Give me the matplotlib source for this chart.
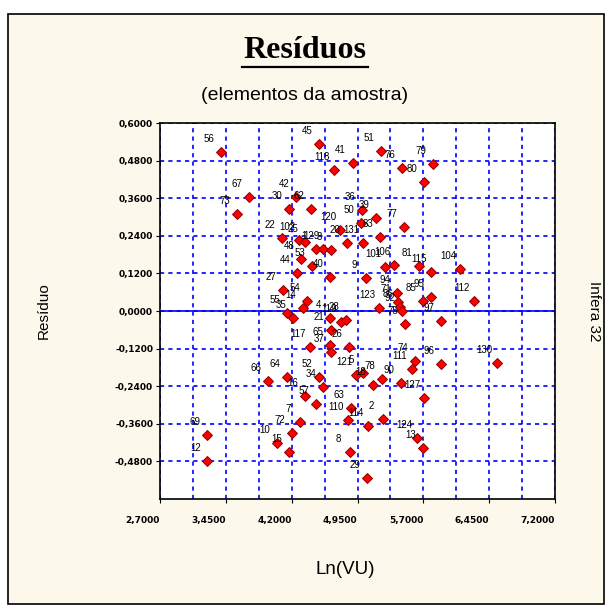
import numpy as np
import matplotlib
matplotlib.use("Agg")
import matplotlib.pyplot as plt
from matplotlib.patches import Rectangle

# elementos da amostra: rótulo, Ln(VU), resíduo
labels = ["56", "67", "73", "45", "118", "41", "51", "76", "80", "79",
          "42", "30", "62", "77", "115", "104", "95", "112", "97", "96",
          "130", "127", "124", "13", "69", "12", "66", "64", "57", "52",
          "114", "7", "72", "15", "8", "29",
          "36", "39", "50", "120", "83", "131", "20", "22", "102", "25",
          "1", "129", "3", "48", "53", "101", "106", "44", "40", "9",
          "81", "27", "54", "14", "55", "35", "4", "119", "28", "21",
          "123", "94", "71", "86", "92", "85", "75", "26", "117", "65",
          "37", "121", "5", "78", "18", "90", "111", "74", "63", "110",
          "2", "34", "16", "10"]
ln_vu = [3.392, 3.714, 3.581, 4.511, 4.679, 4.895, 5.214, 5.454, 5.711, 5.807,
         4.249, 4.173, 4.420, 5.480, 5.787, 6.118, 5.787, 6.277, 5.898, 5.898,
         6.536, 5.708, 5.624, 5.693, 3.239, 3.239, 3.934, 4.150, 4.477, 4.515,
         5.073, 4.295, 4.200, 4.170, 4.865, 5.062,
         5.001, 5.161, 4.990, 4.751, 5.206, 5.013, 4.830, 4.090, 4.283, 4.352,
         4.477, 4.557, 4.648, 4.306, 4.432, 5.263, 5.366, 4.261, 4.637, 5.047,
         5.651, 4.101, 4.375, 4.329, 4.147, 4.215, 4.637, 4.762, 4.819, 4.648,
         5.195, 5.400, 5.411, 5.434, 5.457, 5.696, 5.491, 4.853, 4.409, 4.637,
         4.648, 4.933, 5.013, 5.229, 5.127, 5.445, 5.571, 5.605, 4.876, 4.842,
         5.240, 4.557, 4.352, 4.033]
residuo = [0.506, 0.363, 0.309, 0.533, 0.450, 0.473, 0.512, 0.455, 0.411, 0.468,
           0.364, 0.325, 0.325, 0.269, 0.125, 0.134, 0.044, 0.033, -0.032, -0.170,
           -0.165, -0.279, -0.406, -0.436, -0.397, -0.479, -0.224, -0.210, -0.297, -0.210,
           -0.367, -0.353, -0.390, -0.450, -0.449, -0.532,
           0.322, 0.297, 0.281, 0.259, 0.236, 0.217, 0.217, 0.233, 0.227, 0.220,
           0.198, 0.198, 0.195, 0.166, 0.144, 0.140, 0.147, 0.121, 0.109, 0.105,
           0.144, 0.067, 0.032, 0.010, -0.006, -0.022, -0.022, -0.035, -0.029, -0.061,
           0.010, 0.057, 0.029, 0.013, 0.000, 0.032, -0.041, -0.115, -0.115, -0.109,
           -0.131, -0.204, -0.198, -0.217, -0.236, -0.230, -0.185, -0.160, -0.310, -0.348,
           -0.345, -0.243, -0.271, -0.421]

x_ticks = [2.7, 3.45, 4.2, 4.95, 5.7, 6.45, 7.2]
y_ticks = [0.6, 0.48, 0.36, 0.24, 0.12, 0.0, -0.12, -0.24, -0.36, -0.48]

BG = "#FDF8EC"
BLUE = "#0000FF"


def fmt(v):
    return f"{v:.4f}".replace(".", ",")


fig = plt.figure(figsize=(6.11, 6.12), dpi=100)
fig.patch.set_facecolor("white")
fig.patches.append(Rectangle((8 / 611, 8 / 612), 596 / 611, 590 / 612,
                             transform=fig.transFigure, facecolor=BG,
                             edgecolor="black", linewidth=1.2, zorder=-10))

ax = fig.add_axes([160 / 611, 113 / 612, 395 / 611, 376 / 612])
ax.set_facecolor("white")
ax.set_xlim(2.7, 7.2)
ax.set_ylim(-0.6, 0.6)

ax.set_xticks(x_ticks)
ax.set_xticklabels([fmt(v) for v in x_ticks], ha="right")
ax.set_xticks(np.arange(2.7, 7.21, 0.375), minor=True)
ax.set_yticks(y_ticks)
ax.set_yticklabels([fmt(v) for v in y_ticks])
for lab in ax.get_xticklabels() + ax.get_yticklabels():
    lab.set_fontsize(6.5)
    lab.set_fontweight("bold")
    lab.set_fontfamily("DejaVu Sans")
ax.tick_params(axis="both", which="both", length=3, width=0.8, pad=2)
ax.tick_params(axis="x", which="major", pad=9)
ax.tick_params(axis="x", which="minor", length=0)

ax.grid(True, which="both", axis="x", color=BLUE, linestyle=(0, (2.5, 2.5)), linewidth=1.2)
ax.grid(True, which="major", axis="y", color=BLUE, linestyle=(0, (2.5, 2.5)), linewidth=1.2)
ax.axhline(0, color=BLUE, linewidth=1.2, zorder=1)
ax.set_axisbelow(True)
for s in ax.spines.values():
    s.set_linewidth(1.2)

ax.plot(ln_vu, residuo, linestyle="none", marker="D", markersize=5,
        markerfacecolor="#FF0000", markeredgecolor="#8B0000", markeredgewidth=0.7, zorder=3)
for lab, x, y in zip(labels, ln_vu, residuo):
    ax.annotate(lab, (x, y), xytext=(-12, 13), textcoords="offset pixels",
                ha="center", va="center", fontsize=7, family="Liberation Sans", zorder=4)

fig.text(305 / 611, 1 - 50 / 612, "Resíduos", ha="center", va="center",
         fontsize=23, fontweight="bold", family="Liberation Serif")
fig.add_artist(plt.Line2D([242 / 611, 368 / 611], [1 - 67 / 612, 1 - 67 / 612],
                          color="black", linewidth=1.6))
fig.text(305 / 611, 1 - 95 / 612, "(elementos da amostra)", ha="center", va="center",
         fontsize=14, family="Liberation Sans")
fig.text(345 / 611, 1 - 570 / 612, "Ln(VU)", ha="center", va="center",
         fontsize=13.5, family="Liberation Sans")
fig.text(44 / 611, 1 - 311 / 612, "Resíduo", ha="center", va="center", rotation=90,
         fontsize=11, family="Liberation Sans")
fig.text(594 / 611, 1 - 311 / 612, "Infera 32", ha="center", va="center", rotation=270,
         fontsize=11, family="Liberation Sans")

fig.savefig("out.png", dpi=100, facecolor=fig.get_facecolor())
